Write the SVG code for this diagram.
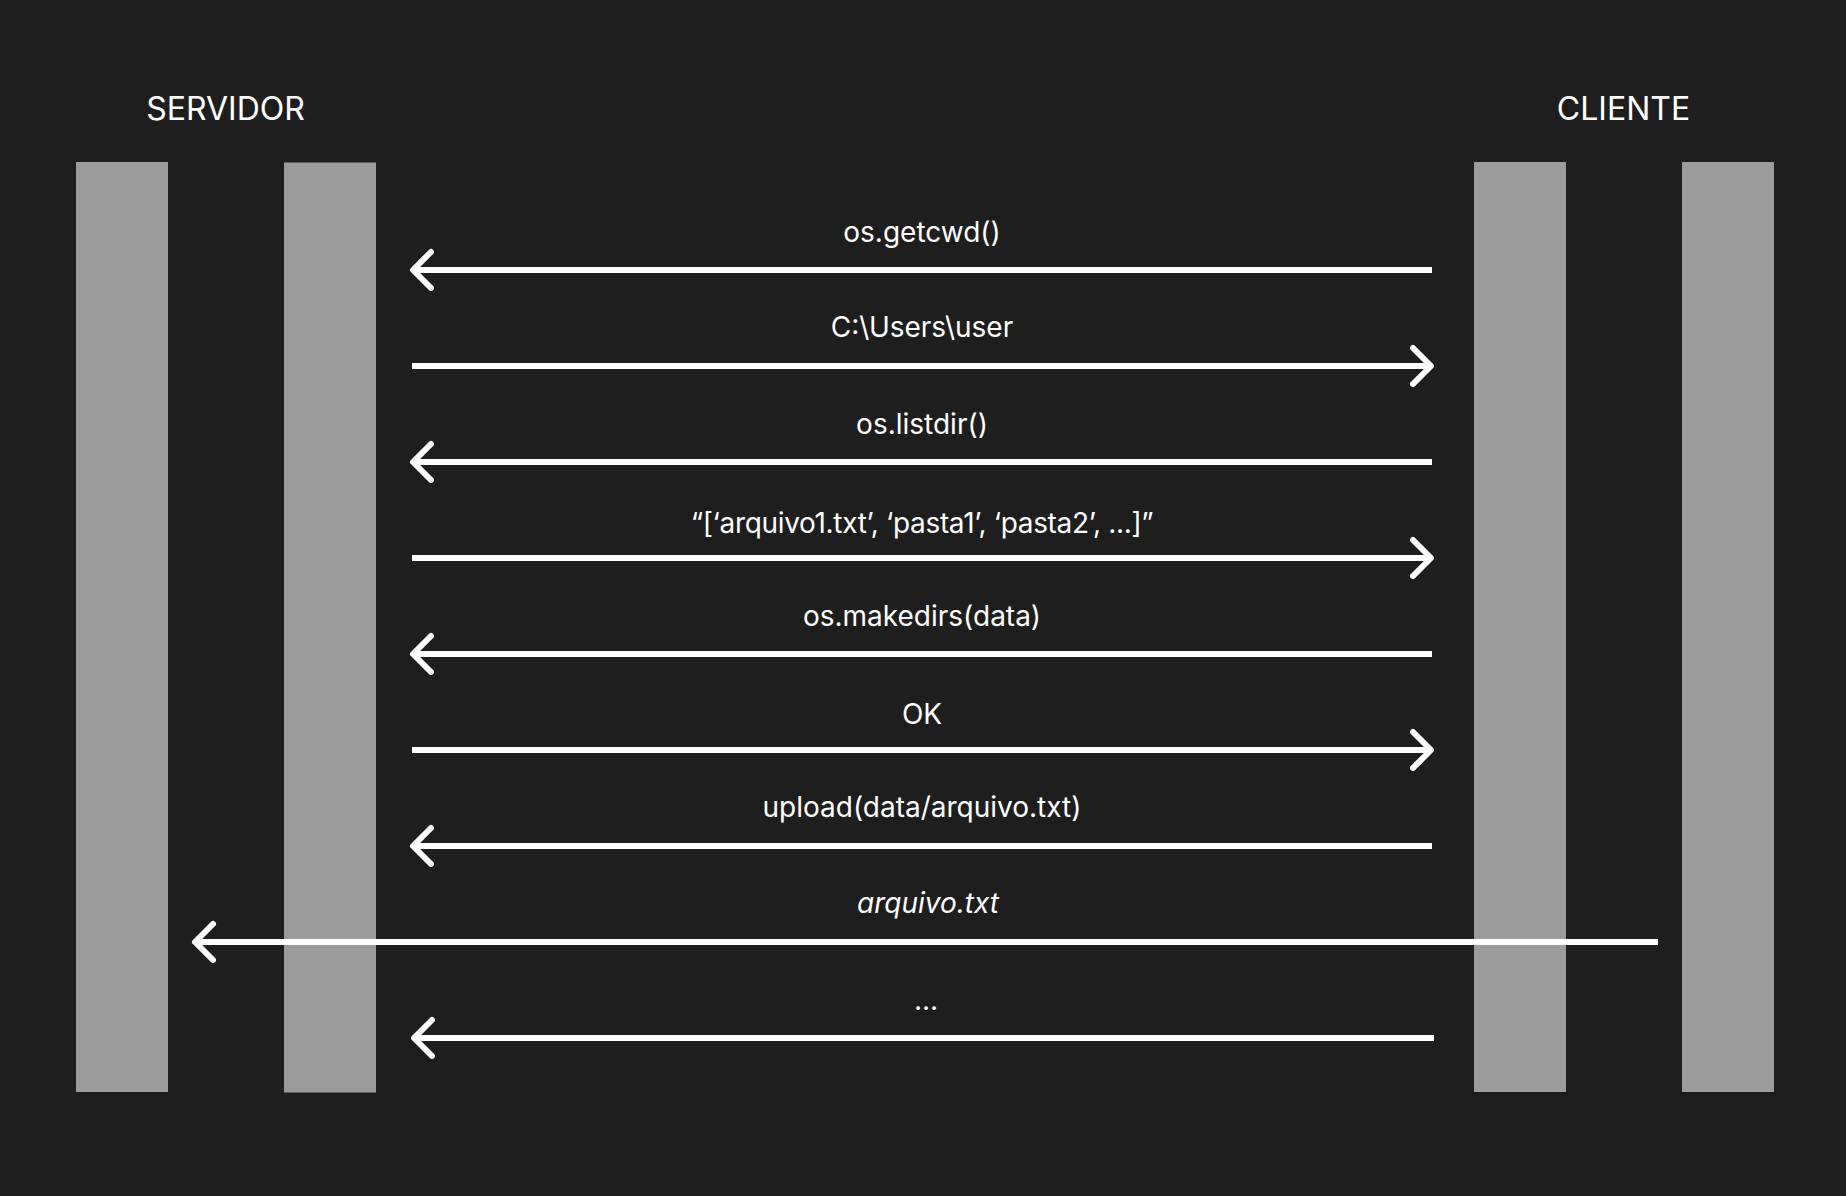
<svg xmlns="http://www.w3.org/2000/svg" width="1846" height="1196" viewBox="0 0 1846 1196">
<style>
.bar{fill:#9b9b9b}
.title{font-family:Inter,"Liberation Sans",sans-serif;font-size:32px;fill:#ffffff;text-anchor:middle}
.lbl{font-family:Inter,"Liberation Sans",sans-serif;font-size:28px;fill:#ffffff;text-anchor:middle}
.shaft{stroke:#ffffff;stroke-width:6;fill:none}
.head{stroke:#ffffff;stroke-width:6;fill:none;stroke-linecap:round;stroke-linejoin:round}
</style>
<rect width="1846" height="1196" fill="#1e1e1e"/>
<g id="servidor">
<text class="title" x="225.5" y="120">SERVIDOR</text>
<rect id="servidor-bar-1" class="bar" x="76" y="162" width="92" height="930"/>
<rect id="servidor-bar-2" class="bar" x="284" y="162.5" width="92" height="930"/>
</g>
<g id="cliente">
<text class="title" x="1623.5" y="120">CLIENTE</text>
<rect id="cliente-bar-1" class="bar" x="1474" y="162" width="92" height="930"/>
<rect id="cliente-bar-2" class="bar" x="1682" y="162" width="92" height="930"/>
</g>
<g id="connectors">
<g id="m1">
<line class="shaft" x1="413" y1="270" x2="1432" y2="270"/>
<polyline class="head" points="431,252 413,270 431,288"/>
<text class="lbl" x="922" y="242">os.getcwd()</text>
</g>
<g id="m2">
<line class="shaft" x1="412" y1="366" x2="1431" y2="366"/>
<polyline class="head" points="1413,348 1431,366 1413,384"/>
<text class="lbl" x="922" y="337">C:\Users\user</text>
</g>
<g id="m3">
<line class="shaft" x1="413" y1="462" x2="1432" y2="462"/>
<polyline class="head" points="431,444 413,462 431,480"/>
<text class="lbl" x="922" y="434">os.listdir()</text>
</g>
<g id="m4">
<line class="shaft" x1="412" y1="558" x2="1431" y2="558"/>
<polyline class="head" points="1413,540 1431,558 1413,576"/>
<text class="lbl" x="922" y="533" letter-spacing="-0.33">“[‘arquivo1.txt’, ‘pasta1’, ‘pasta2’, ...]”</text>
</g>
<g id="m5">
<line class="shaft" x1="413" y1="654" x2="1432" y2="654"/>
<polyline class="head" points="431,636 413,654 431,672"/>
<text class="lbl" x="922" y="626">os.makedirs(data)</text>
</g>
<g id="m6">
<line class="shaft" x1="412" y1="750" x2="1431" y2="750"/>
<polyline class="head" points="1413,732 1431,750 1413,768"/>
<text class="lbl" x="922" y="724">OK</text>
</g>
<g id="m7">
<line class="shaft" x1="413" y1="846" x2="1432" y2="846"/>
<polyline class="head" points="431,828 413,846 431,864"/>
<text class="lbl" x="922" y="817">upload(data/arquivo.txt)</text>
</g>
<g id="m8">
<line class="shaft" x1="195" y1="942" x2="1658" y2="942"/>
<polyline class="head" points="213,924 195,942 213,960"/>
<text class="lbl" x="928" y="913" font-style="italic">arquivo.txt</text>
</g>
<g id="m9">
<line class="shaft" x1="414" y1="1038" x2="1434" y2="1038"/>
<polyline class="head" points="432,1020 414,1038 432,1056"/>
<text class="lbl" x="926" y="1010">...</text>
</g>
</g>
</svg>
